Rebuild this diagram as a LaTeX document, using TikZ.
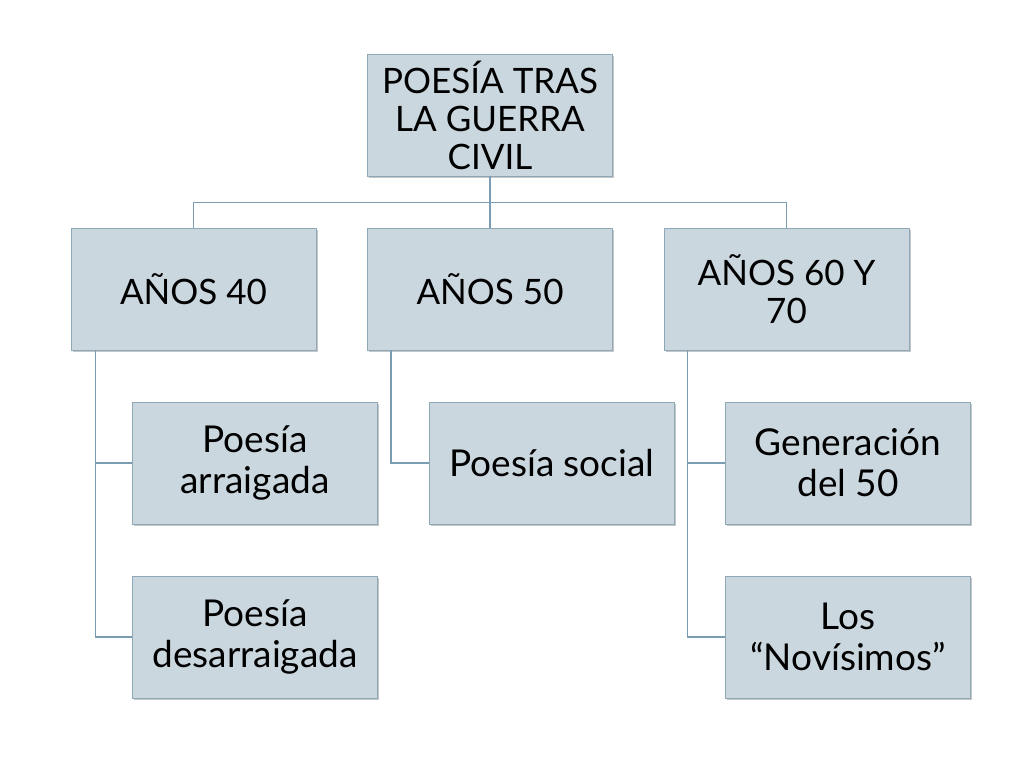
\documentclass[tikz,border=0pt]{standalone}
\usepackage{fontspec}
\setmainfont{Lato}
\usetikzlibrary{positioning,shadows}

\definecolor{boxfill}{HTML}{CBD7DF}
\definecolor{boxline}{HTML}{8FA8B8}
\definecolor{linkline}{HTML}{7C9DB1}

\begin{document}
\begin{tikzpicture}[on grid,node distance=174pt and 296.5pt,
  box/.style={draw=boxline,fill=boxfill,line width=0.9pt,
    minimum width=245pt,minimum height=122pt,align=center,
    drop shadow={shadow xshift=1.5pt,shadow yshift=-2pt,opacity=0.45}},
  big/.style={box,font=\fontsize{35}{38}\selectfont},
  small/.style={box,font=\fontsize{37}{41}\selectfont},
  link/.style={draw=linkline,line width=1.2pt}]

\useasboundingbox (0,0) rectangle (1024pt,-768pt);

\node[big]   (top)   at (490pt,-115pt) {POESÍA TRAS\\LA GUERRA\\CIVIL};
\node[big]   (a50)   [below=of top]    {AÑOS 50};
\node[big]   (a40)   [left=of a50]     {AÑOS 40};
\node[big]   (a60)   [right=of a50]    {AÑOS 60 Y\\70};
\node[small] (arr)   [below right=174pt and 61.5pt of a40] {Poesía\\arraigada};
\node[small] (desarr)[below=of arr]    {Poesía\\desarraigada};
\node[small] (social)[below right=174pt and 62pt of a50] {Poesía social};
\node[small] (gen)   [below right=174pt and 61.5pt of a60] {Generación\\del 50};
\node[small] (novis) [below=of gen]    {Los\\“Novísimos”};

\path[link]
(top.south) -- ++(0,-26pt) -| (a40.north)
(top.south) -- ++(0,-26pt) -| (a60.north)
(top.south) -- (a50.north)
([xshift=25pt]a40.south west) |- (arr.west)
([xshift=25pt]a40.south west) |- (desarr.west)
([xshift=24pt]a50.south west) |- (social.west)
([xshift=24pt]a60.south west) |- (gen.west)
([xshift=24pt]a60.south west) |- (novis.west)
;
\end{tikzpicture}
\end{document}
